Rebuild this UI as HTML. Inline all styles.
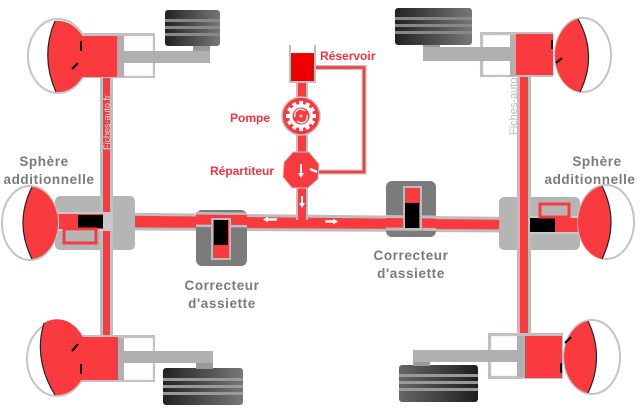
<!DOCTYPE html>
<html><head><meta charset="utf-8"><style>
html,body{margin:0;padding:0;background:#fff;}
svg{display:block;}
.g{font-family:"Liberation Sans",sans-serif;font-weight:bold;fill:#7a7a7a;font-size:13.5px;letter-spacing:0.6px;}
.r{font-family:"Liberation Sans",sans-serif;font-weight:bold;fill:#f5333c;font-size:12px;}
</style></head><body>
<svg width="640" height="420" viewBox="0 0 640 420" xmlns="http://www.w3.org/2000/svg">
<defs>
<linearGradient id="tire" x1="0" x2="1" y1="0" y2="0">
<stop offset="0" stop-color="#222"/><stop offset="1" stop-color="#777"/></linearGradient>
<linearGradient id="tire2" x1="0" x2="1" y1="0" y2="0">
<stop offset="0" stop-color="#666"/><stop offset="1" stop-color="#1e1e1e"/></linearGradient>
</defs>
<!-- horizontal main pipe -->
<polygon points="55,212 610,218 610,233 55,230" fill="#bdbdbd"/>
<polygon points="55,215 610,221 610,230 55,227" fill="#fb3a40"/>
<!-- vertical pipes -->
<rect x="100" y="75" width="13" height="270" fill="#bdbdbd"/>
<rect x="103" y="75" width="7" height="270" fill="#fb3a40"/>
<rect x="517" y="72" width="14" height="270" fill="#bdbdbd"/>
<rect x="520" y="72" width="8" height="270" fill="#fb3a40"/>
<text transform="translate(110,150) rotate(-90)" font-family="Liberation Sans" font-size="9" fill="#e8e8e8">Fiches-auto.fr</text>
<text transform="translate(517,135) rotate(-90)" font-family="Liberation Sans" font-size="11" fill="#bbb">Fiches-auto.fr</text>

<!-- TOP LEFT wheel -->
<rect x="165" y="10" width="55" height="36" rx="3" fill="url(#tire)"/>
<rect x="165" y="19" width="55" height="3" fill="#888"/><rect x="165" y="26" width="55" height="3" fill="#888"/><rect x="165" y="33" width="55" height="3" fill="#888"/>
<rect x="193" y="46" width="17" height="6" fill="#999"/>
<rect x="78" y="33" width="77" height="45" fill="#c0c0c0"/>
<rect x="124" y="36" width="29" height="40" fill="#fff" stroke="#f0c0c0" stroke-width="0.5"/>
<rect x="117" y="36" width="7" height="41" fill="#b0b0b0"/>
<rect x="120" y="51" width="90" height="12" fill="#b0b0b0"/>
<ellipse cx="58" cy="56" rx="30" ry="37" fill="#fff" stroke="#c4c4c4" stroke-width="2"/>
<path d="M55,21 A30,37 0 0 1 88,56 A30,37 0 0 1 56,92 Q40,56 55,21 Z" fill="#fb3a40"/>
<path d="M55,21 Q40,56 56,92" fill="none" stroke="#222" stroke-width="1.2"/>
<rect x="80" y="36" width="37" height="41" fill="#fb3a40"/>
<path d="M81,41 v10 M78,63 l-6,6" stroke="#000" stroke-width="2"/>

<!-- BOTTOM LEFT wheel -->
<rect x="163" y="368" width="80" height="37" rx="3" fill="url(#tire)"/>
<rect x="163" y="378" width="80" height="3" fill="#999"/><rect x="163" y="385" width="80" height="3" fill="#999"/><rect x="163" y="392" width="80" height="3" fill="#999"/>
<rect x="196" y="363" width="17" height="6" fill="#999"/>
<rect x="80" y="335" width="75" height="47" fill="#c0c0c0"/>
<rect x="122" y="338" width="31" height="42" fill="#fff" stroke="#f0c0c0" stroke-width="0.5"/>
<rect x="117" y="338" width="7" height="42" fill="#b0b0b0"/>
<rect x="120" y="351" width="93" height="12" fill="#b0b0b0"/>
<ellipse cx="57" cy="359" rx="30" ry="37" fill="#fff" stroke="#c4c4c4" stroke-width="2"/>
<path d="M44,323 A30,37 0 0 1 87,359 A30,37 0 0 1 55,395 Q33,359 44,323 Z" fill="#fb3a40"/>
<path d="M44,323 Q33,359 55,395" fill="none" stroke="#222" stroke-width="1.2"/>
<rect x="80" y="337" width="38" height="43" fill="#fb3a40"/>
<path d="M78,344 l-6,7 M81,364 v10" stroke="#000" stroke-width="2"/>

<!-- TOP RIGHT wheel -->
<rect x="395" y="8" width="77" height="37" rx="3" fill="url(#tire)"/>
<rect x="395" y="17" width="77" height="3" fill="#888"/><rect x="395" y="24" width="77" height="3" fill="#888"/><rect x="395" y="31" width="77" height="3" fill="#888"/>
<rect x="423" y="45" width="17" height="5" fill="#999"/>
<rect x="480" y="32" width="73" height="45" fill="#c0c0c0"/>
<rect x="483" y="35" width="28" height="40" fill="#fff" stroke="#f0c0c0" stroke-width="0.5"/>
<rect x="510" y="35" width="7" height="41" fill="#b0b0b0"/>
<rect x="423" y="47" width="94" height="14" fill="#b0b0b0"/>
<ellipse cx="583" cy="55" rx="28" ry="37" fill="#fff" stroke="#c4c4c4" stroke-width="2"/>
<path d="M578,19 A28,37 0 0 0 555,55 A28,37 0 0 0 580,92 Q598,55 578,19 Z" fill="#fb3a40"/>
<path d="M578,19 Q598,55 580,92" fill="none" stroke="#222" stroke-width="1.2"/>
<rect x="516" y="34" width="37" height="41" fill="#fb3a40"/>
<path d="M552,40 v9 M556,63 l6,-5" stroke="#000" stroke-width="2"/>

<!-- BOTTOM RIGHT wheel -->
<rect x="399" y="365" width="79" height="37" rx="3" fill="url(#tire2)"/>
<rect x="399" y="374" width="79" height="3" fill="#999"/><rect x="399" y="381" width="79" height="3" fill="#999"/><rect x="399" y="388" width="79" height="3" fill="#999"/>
<rect x="413" y="361" width="17" height="5" fill="#999"/>
<rect x="488" y="333" width="75" height="46" fill="#c0c0c0"/>
<rect x="491" y="336" width="27" height="40" fill="#fff" stroke="#f0c0c0" stroke-width="0.5"/>
<rect x="517" y="336" width="8" height="41" fill="#b0b0b0"/>
<rect x="413" y="350" width="107" height="12" fill="#b0b0b0"/>
<ellipse cx="592" cy="357" rx="28" ry="37" fill="#fff" stroke="#c4c4c4" stroke-width="2"/>
<path d="M588,321 A28,37 0 0 0 564,357 A28,37 0 0 0 588,393 Q605,357 588,321 Z" fill="#fb3a40"/>
<path d="M588,321 Q605,357 588,393" fill="none" stroke="#222" stroke-width="1.2"/>
<rect x="525" y="336" width="37" height="42" fill="#fb3a40"/>
<path d="M565,343 l6,-6 M561,363 v10" stroke="#000" stroke-width="2"/>

<!-- LEFT additional sphere -->
<rect x="55" y="196" width="80" height="54" rx="5" fill="#b5b5b5"/>
<rect x="100" y="196" width="13" height="54" fill="#bdbdbd"/><rect x="103" y="196" width="7" height="54" fill="#fb3a40"/>
<rect x="58" y="212" width="55" height="19" fill="#c8c8c8"/>
<rect x="58" y="214" width="45" height="15" fill="#fb3a40"/>
<rect x="78" y="215" width="25" height="13" fill="#000"/>
<rect x="64" y="229" width="32" height="14" fill="none" stroke="#fb3a40" stroke-width="3"/>
<ellipse cx="30" cy="223" rx="28" ry="37" fill="#fff" stroke="#c4c4c4" stroke-width="2"/>
<path d="M32,187 A28,37 0 0 1 58,223 A28,37 0 0 1 32,259 Q14,223 32,187 Z" fill="#fb3a40"/>
<path d="M32,187 Q14,223 32,259" fill="none" stroke="#222" stroke-width="1.2"/>

<!-- RIGHT additional sphere -->
<rect x="499" y="197" width="81" height="53" rx="5" fill="#b5b5b5"/>
<rect x="517" y="197" width="14" height="53" fill="#bdbdbd"/><rect x="520" y="197" width="8" height="53" fill="#fb3a40"/>
<rect x="530" y="216" width="48" height="18" fill="#c8c8c8"/>
<rect x="530" y="218" width="48" height="14" fill="#fb3a40"/>
<rect x="530" y="218" width="25" height="14" fill="#000"/>
<rect x="540" y="204" width="29" height="13" fill="none" stroke="#fb3a40" stroke-width="3"/>
<ellipse cx="606" cy="222" rx="28" ry="37" fill="#fff" stroke="#c4c4c4" stroke-width="2"/>
<path d="M602,186 A28,37 0 0 0 578,222 A28,37 0 0 0 602,259 Q620,222 602,186 Z" fill="#fb3a40"/>
<path d="M602,186 Q620,222 602,259" fill="none" stroke="#222" stroke-width="1.2"/>

<!-- correcteurs -->
<rect x="196" y="210" width="51" height="56" rx="6" fill="#7b7b7b"/>
<polygon points="196,212 247,212.5 247,227.5 196,227" fill="#bdbdbd"/>
<polygon points="196,214.5 247,215 247,225 196,224.5" fill="#fb3a40"/>
<rect x="211" y="218" width="20" height="42" fill="#bdbdbd"/>
<rect x="213" y="220" width="16" height="38" fill="#fb3a40"/>
<rect x="214" y="220" width="14" height="25" fill="#000"/>
<rect x="386" y="181" width="50" height="56" rx="6" fill="#7b7b7b"/>
<polygon points="386,215 436,215.5 436,231 386,230.5" fill="#bdbdbd"/>
<polygon points="386,218 436,218.5 436,228 386,227.5" fill="#fb3a40"/>
<rect x="403" y="186" width="19" height="44" fill="#bdbdbd"/>
<rect x="405" y="188" width="15" height="40" fill="#fb3a40"/>
<rect x="405" y="203" width="14" height="25" fill="#000"/>

<!-- central -->
<rect x="296" y="80" width="12" height="140" fill="#bdbdbd"/>
<rect x="298" y="80" width="8" height="142" fill="#fb3a40"/>
<path d="M313,67.5 H364 V172 H318" fill="none" stroke="#bdbdbd" stroke-width="5"/>
<path d="M313,67.5 H364 V172 H318" fill="none" stroke="#fb3a40" stroke-width="2.5"/>
<path d="M290,45 V82 H315 V45" fill="none" stroke="#bdbdbd" stroke-width="2"/>
<rect x="291" y="53" width="23" height="28" fill="#ee0000"/>
<circle cx="301" cy="116" r="19" fill="#fb3a40" stroke="#c4c4c4" stroke-width="1.5"/>
<g fill="#fff">
<circle cx="301" cy="116" r="12"/>
<g id="t"><rect x="299" y="101" width="4" height="4"/></g>
<use href="#t" transform="rotate(30 301 116)"/><use href="#t" transform="rotate(60 301 116)"/><use href="#t" transform="rotate(90 301 116)"/><use href="#t" transform="rotate(120 301 116)"/><use href="#t" transform="rotate(150 301 116)"/><use href="#t" transform="rotate(180 301 116)"/><use href="#t" transform="rotate(210 301 116)"/><use href="#t" transform="rotate(240 301 116)"/><use href="#t" transform="rotate(270 301 116)"/><use href="#t" transform="rotate(300 301 116)"/><use href="#t" transform="rotate(330 301 116)"/>
</g>
<circle cx="301" cy="116" r="8.5" fill="#fb3a40"/>
<path d="M295,117 A6,6 0 0 1 305,111 M307,115 A6,6 0 0 1 297,121" stroke="#fff" stroke-width="1.3" fill="none"/>
<circle cx="301" cy="116" r="1.5" fill="#ccc"/>
<polygon points="293,152 309,152 319,164 318,179 308,188 292,188 283,177 284,162" fill="#fb3a40" stroke="#c4c4c4" stroke-width="1"/>
<path d="M301,164 v10" stroke="#fff" stroke-width="2"/><polygon points="298,173 304,173 301,178" fill="#fff"/>
<path d="M310,169 l7,3" stroke="#fff" stroke-width="2.5"/>
<path d="M302,196 v8" stroke="#fff" stroke-width="2"/><polygon points="299,203 305,203 302,208" fill="#fff"/>
<path d="M268,219.5 h9" stroke="#fff" stroke-width="2.5"/><polygon points="268,216.5 268,222.5 263,219.5" fill="#fff"/>
<path d="M325,221.5 h8" stroke="#fff" stroke-width="2.5"/><polygon points="333,218.5 333,224.5 338,221.5" fill="#fff"/>

<!-- labels -->
<text class="r" x="320" y="60">Réservoir</text>
<text class="r" x="230" y="122">Pompe</text>
<text class="r" x="210" y="175">Répartiteur</text>
<text class="g" x="44" y="166" text-anchor="middle">Sphère</text>
<text class="g" x="49" y="184" text-anchor="middle">additionnelle</text>
<text class="g" x="597" y="166" text-anchor="middle">Sphère</text>
<text class="g" x="590" y="184" text-anchor="middle">additionnelle</text>
<text class="g" x="222" y="290" text-anchor="middle">Correcteur</text>
<text class="g" x="222" y="308" text-anchor="middle">d'assiette</text>
<text class="g" x="411" y="260" text-anchor="middle">Correcteur</text>
<text class="g" x="411" y="278" text-anchor="middle">d'assiette</text>
</svg>
</body></html>
